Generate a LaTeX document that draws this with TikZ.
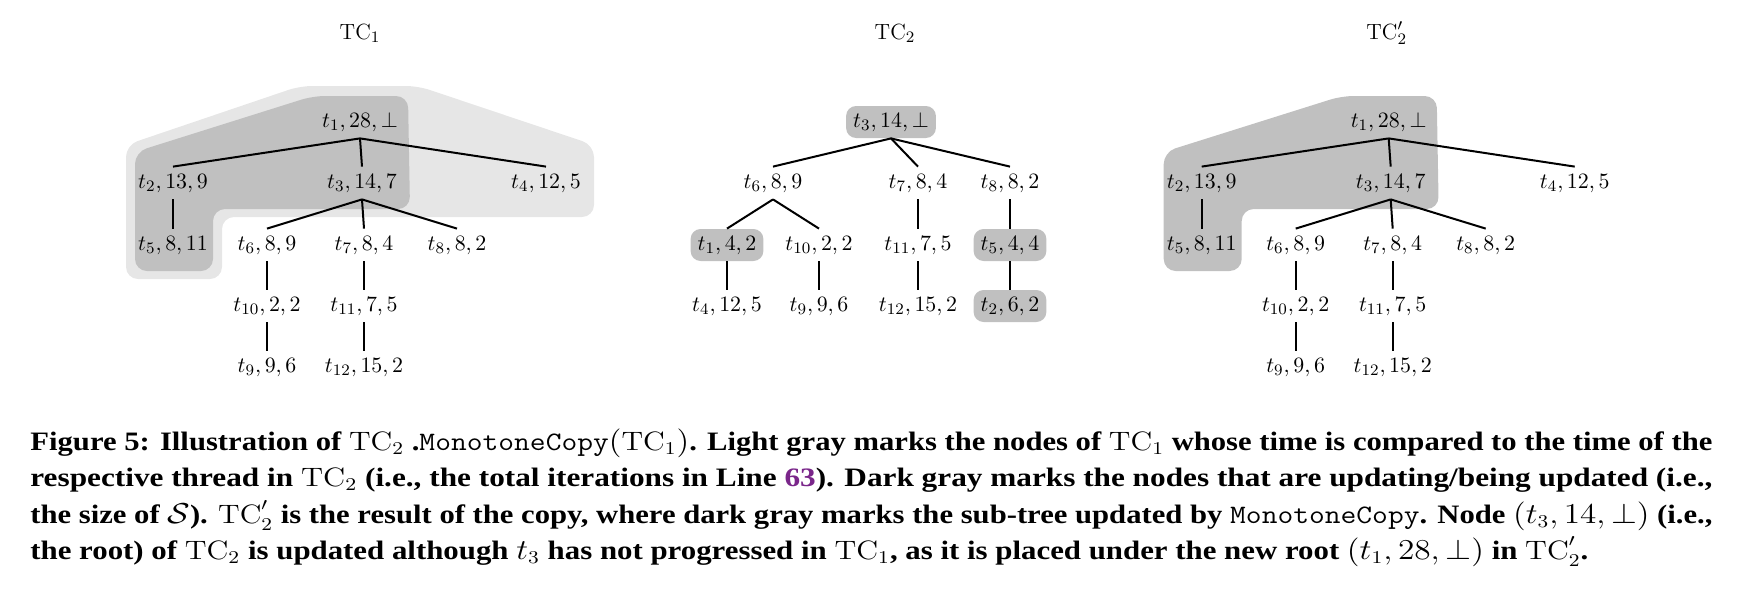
\documentclass[tikz,border=0pt]{standalone}
\usepackage{fontspec}
\usepackage{graphicx}
\newfontfamily\capfont{Liberation Serif}
\definecolor{lightbg}{HTML}{E6E6E6}
\definecolor{darkbg}{HTML}{C0C0C0}
\definecolor{linkpurple}{RGB}{122,38,138}
\newcommand\TCm[1]{\mathrm{TC}_{#1}}
\newcommand\capstyle{\capfont\bfseries\fontsize{13.3}{16}\selectfont}
\newcommand\monoword[1]{{\mdseries\ttfamily #1}}
\tikzset{
  tn/.style={inner xsep=3.5pt, inner ysep=2.5pt, text height=8pt, text depth=3pt,
             font=\fontsize{11}{13}\selectfont},
  hl/.style={tn, fill=darkbg, rounded corners=5pt},
  edge/.style={line width=1pt},
  ttl/.style={font=\fontsize{11}{13}\selectfont, inner sep=0pt},
  region/.style={rounded corners=6pt},
  capline/.style={anchor=base west, inner sep=0pt},
}
% draws the TC1-shaped tree with a name prefix
\newcommand\drawTCtree[1]{%
  \node[tn] (#1n1) at (360,122) {$t_1, 28, \bot$};
  \node[tn] (#1n2) at (173,183) {$t_2, 13, 9$};
  \node[tn] (#1n3) at (362,183) {$t_3, 14, 7$};
  \node[tn] (#1n4) at (546,183) {$t_4, 12, 5$};
  \node[tn] (#1n5) at (173,245) {$t_5, 8, 11$};
  \node[tn] (#1n6) at (267,245) {$t_6, 8, 9$};
  \node[tn] (#1n7) at (364,245) {$t_7, 8, 4$};
  \node[tn] (#1n8) at (457,245) {$t_8, 8, 2$};
  \node[tn] (#1n10) at (267,306) {$t_{10}, 2, 2$};
  \node[tn] (#1n11) at (364,306) {$t_{11}, 7, 5$};
  \node[tn] (#1n9) at (267,367) {$t_9, 9, 6$};
  \node[tn] (#1n12) at (364,367) {$t_{12}, 15, 2$};
  \draw[edge] (#1n1.south) -- (#1n2.north);
  \draw[edge] (#1n1.south) -- (#1n3.north);
  \draw[edge] (#1n1.south) -- (#1n4.north);
  \draw[edge] (#1n2.south) -- (#1n5.north);
  \draw[edge] (#1n3.south) -- (#1n6.north);
  \draw[edge] (#1n3.south) -- (#1n7.north);
  \draw[edge] (#1n3.south) -- (#1n8.north);
  \draw[edge] (#1n6.south) -- (#1n10.north);
  \draw[edge] (#1n10.south) -- (#1n9.north);
  \draw[edge] (#1n7.south) -- (#1n11.north);
  \draw[edge] (#1n11.south) -- (#1n12.north);
}
\newcommand\darkregion{%
  \fill[darkbg, region] (135,271) -- (135,152) -- (313,96) -- (408,96) -- (410,209)
    -- (213,209) -- (213,271) -- cycle;
}
\begin{document}
\begin{tikzpicture}[x=0.5pt, y=-0.5pt]
  \useasboundingbox (0,0) rectangle (1742,590);

  % ---------- TC1 ----------
  \fill[lightbg, region] (126,279) -- (126,145) -- (300,86) -- (418,86) -- (594,145)
    -- (594,217) -- (222,217) -- (222,279) -- cycle;
  \darkregion
  \node[ttl] (ttlA) at (360,33) {$\TCm{1}$};
  \drawTCtree{a}

  % ---------- TC2 ----------
  \node[ttl] (ttlB) at (895,33) {$\TCm{2}$};
  \node[hl] (b3) at (891,122) {$t_3, 14, \bot$};
  \node[tn] (b6) at (773,183) {$t_6, 8, 9$};
  \node[tn] (b7) at (918,183) {$t_7, 8, 4$};
  \node[tn] (b8) at (1010,183) {$t_8, 8, 2$};
  \node[hl] (b1) at (727,245) {$t_1, 4, 2$};
  \node[tn] (b10) at (819,245) {$t_{10}, 2, 2$};
  \node[tn] (b11) at (918,245) {$t_{11}, 7, 5$};
  \node[hl] (b5) at (1010,245) {$t_5, 4, 4$};
  \node[tn] (b4) at (727,306) {$t_4, 12, 5$};
  \node[tn] (b9) at (819,306) {$t_9, 9, 6$};
  \node[tn] (b12) at (918,306) {$t_{12}, 15, 2$};
  \node[hl] (b2) at (1010,306) {$t_2, 6, 2$};
  \draw[edge] (b3.south) -- (b6.north);
  \draw[edge] (b3.south) -- (b7.north);
  \draw[edge] (b3.south) -- (b8.north);
  \draw[edge] (b6.south) -- (b1.north);
  \draw[edge] (b6.south) -- (b10.north);
  \draw[edge] (b7.south) -- (b11.north);
  \draw[edge] (b8.south) -- (b5.north);
  \draw[edge] (b1.south) -- (b4.north);
  \draw[edge] (b10.south) -- (b9.north);
  \draw[edge] (b11.south) -- (b12.north);
  \draw[edge] (b5.south) -- (b2.north);

  % ---------- TC2' ----------
  \begin{scope}[shift={(1028.7,0)}]
    \darkregion
    \node[ttl] (ttlC) at (358,33) {$\mathrm{TC}'_2$};
    \drawTCtree{c}
  \end{scope}

  % ---------- caption ----------
  \node[capline] (cap1) at (30,450) {\resizebox{841pt}{\height}{\capstyle Figure 5: Illustration of $\TCm{2}$ .\monoword{MonotoneCopy}$(\TCm{1})$. Light gray marks the nodes of $\TCm{1}$ whose time is compared to the time of the}};
  \node[capline] (cap2) at (30,486.5) {\resizebox{841pt}{\height}{\capstyle respective thread in $\TCm{2}$ (i.e., the total iterations in Line {\color{linkpurple}63}). Dark gray marks the nodes that are updating/being updated (i.e.,}};
  \node[capline] (cap3) at (30,523) {\resizebox{841pt}{\height}{\capstyle the size of $\mathcal{S}$). $\mathrm{TC}'_2$ is the result of the copy, where dark gray marks the sub-tree updated by \monoword{MonotoneCopy}. Node $(t_3, 14, \bot)$ (i.e.,}};
  \node[capline] (cap4) at (30,559) {\resizebox{779pt}{\height}{\capstyle the root) of $\TCm{2}$ is updated although $t_3$ has not progressed in $\TCm{1}$, as it is placed under the new root $(t_1, 28, \bot)$ in $\mathrm{TC}'_2$.}};
\end{tikzpicture}
\end{document}
